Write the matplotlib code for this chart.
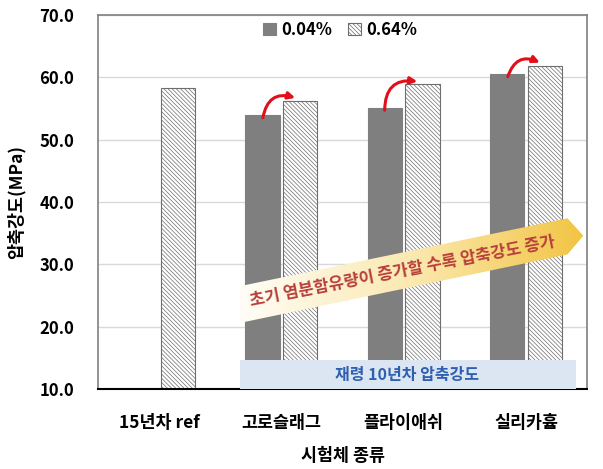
import numpy as np
import matplotlib
matplotlib.use("Agg")
import matplotlib.pyplot as plt
from matplotlib.patches import Polygon, Rectangle, FancyArrowPatch
from matplotlib.colors import LinearSegmentedColormap

plt.rcParams['font.family'] = ['Noto Sans CJK KR', 'DejaVu Sans']
plt.rcParams['hatch.linewidth'] = 0.5
plt.rcParams['hatch.color'] = '#6e6e6e'

categories = ['15년차 ref', '고로슬래그', '플라이애쉬', '실리카흄']
low_salt = [np.nan, 53.9, 55.1, 60.5]    # 0.04%
high_salt = [58.3, 56.2, 58.9, 61.8]     # 0.64%
series_names = ['0.04%', '0.64%']

fig = plt.figure(figsize=(6.03, 4.69), dpi=100)
ax = fig.add_axes([0.1625, 0.1706, 0.811, 0.797])

x = np.arange(len(categories))
w = 0.28
off = 0.155
b1 = ax.bar(x - off, low_salt, w, bottom=0, color='#7f7f7f', edgecolor='#7f7f7f',
            linewidth=0.8, label=series_names[0], zorder=2)
b2 = ax.bar(x + off, high_salt, w, bottom=0, color='white', edgecolor='#6e6e6e',
            hatch='\\\\\\\\\\\\\\\\', linewidth=0.8, label=series_names[1], zorder=2)

ax.set_xlim(-0.5, len(categories) - 0.5)
ax.set_ylim(10, 70)
ax.set_yticks(np.arange(10, 71, 10))
ax.set_yticklabels([f'{v:.1f}' for v in np.arange(10, 71, 10)], fontsize=12, fontweight='bold')
ax.set_xticks(x)
ax.set_xticklabels(categories, fontsize=12.5, fontweight='bold')
ax.tick_params(axis='y', length=0, pad=17)
ax.tick_params(axis='x', length=0, pad=18)
ax.yaxis.grid(True, color='#d9d9d9', linewidth=1, zorder=0)
ax.set_axisbelow(True)
for s in ['top', 'right', 'left']:
    ax.spines[s].set_color('#7f7f7f')
    ax.spines[s].set_linewidth(1.2)
ax.spines['bottom'].set_color('black')
ax.spines['bottom'].set_linewidth(1.5)

ax.set_xlabel('시험체 종류', fontsize=12.5, fontweight='bold', labelpad=11)
ax.set_ylabel('압축강도(MPa)', fontsize=12.5, fontweight='bold', labelpad=10)

leg = ax.legend(loc='upper center', ncol=2, frameon=False,
                prop={'weight': 'bold', 'size': 12}, handlelength=0.75,
                handleheight=0.75, handletextpad=0.3, columnspacing=1.0,
                bbox_to_anchor=(0.495, 1.025))

# gradient arrow band
band = [(0.66, 26.5), (3.34, 37.4), (3.47, 34.6), (3.34, 31.6), (0.66, 20.6)]
cmap = LinearSegmentedColormap.from_list('band', ['#fffdf6', '#fbe9b0', '#f2c443'])
grad = np.linspace(0, 1, 256).reshape(1, -1)
im = ax.imshow(grad, cmap=cmap, extent=(0.66, 3.47, 20.6, 37.4), aspect='auto',
               zorder=4, interpolation='bilinear')
poly = Polygon(band, closed=True, facecolor='none', edgecolor='none', zorder=4)
ax.add_patch(poly)
im.set_clip_path(poly)
ax.text(1.99, 28.9, '초기 염분함유량이 증가할 수록 압축강도 증가', rotation=11,
        rotation_mode='anchor', ha='center', va='center', fontsize=12,
        fontweight='bold', color='#b8403c', zorder=5)

# blue box
ax.add_patch(Rectangle((0.66, 10), 2.75, 4.6, facecolor='#dce6f2', edgecolor='none',
                       zorder=4, clip_on=False))
ax.text(2.03, 12.3, '재령 10년차 압축강도', ha='center', va='center', fontsize=11.5,
        fontweight='bold', color='#2e5fb0', zorder=5)

# red curved arrows
for i in range(1, len(categories)):
    arr = FancyArrowPatch((x[i] - off, low_salt[i] - 0.8), (x[i] + off - 0.02, high_salt[i] + 0.4),
                          connectionstyle='arc3,rad=-0.6', arrowstyle='-|>',
                          mutation_scale=10, color='#e0101a', linewidth=2.2, zorder=6)
    ax.add_patch(arr)

ax.set_xlim(-0.5, len(categories) - 0.5)
ax.set_ylim(10, 70)
fig.savefig('out.png', dpi=100)
